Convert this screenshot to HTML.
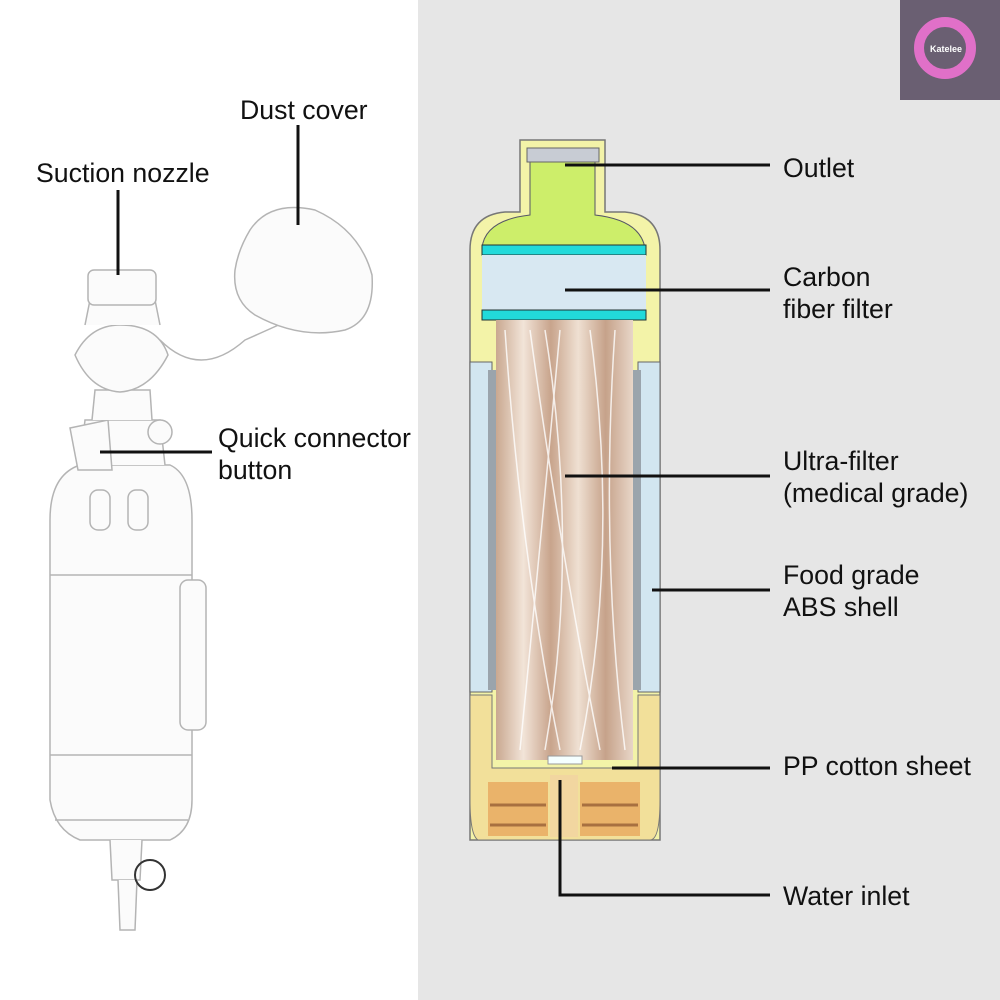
<!DOCTYPE html>
<html><head><style>
html,body{margin:0;padding:0;width:1000px;height:1000px;overflow:hidden;background:#fff}
svg{display:block}
text{font-family:"Liberation Sans",sans-serif;font-size:26.7px;fill:#111}
</style></head><body>
<svg width="1000" height="1000" viewBox="0 0 1000 1000">
<rect x="0" y="0" width="418" height="1000" fill="#fff"/>
<rect x="418" y="0" width="582" height="1000" fill="#e6e6e6"/>
<!-- logo -->
<rect x="900" y="0" width="100" height="100" fill="#6a5f72"/>
<circle cx="945" cy="48" r="26" fill="none" stroke="#e070c8" stroke-width="10"/>
<text x="930" y="52" style="font-size:9px;fill:#fff;font-weight:bold">Katelee</text>

<!-- left bottle line drawing -->
<g fill="#fbfbfb" stroke="#b4b4b4" stroke-width="1.5">
<path d="M50 520 Q50 475 80 465 L170 465 Q192 475 192 520 L192 800 Q192 830 170 840 L80 840 Q55 830 50 800 Z"/>
<path d="M50 575 L192 575 M50 755 L192 755 M55 820 L188 820"/>
<rect x="180" y="580" width="26" height="150" rx="8"/>
<rect x="90" y="490" width="20" height="40" rx="8"/>
<rect x="128" y="490" width="20" height="40" rx="8"/>
<path d="M80 465 L85 420 L160 420 L165 465"/>
<path d="M70 428 L108 420 L112 470 L78 470 Z"/>
<circle cx="160" cy="432" r="12"/>
<path d="M92 420 L95 390 L150 390 L152 420"/>
<path d="M75 355 Q90 325 120 325 Q158 325 168 355 Q150 390 120 392 Q90 390 75 355Z"/>
<path d="M85 325 L90 300 L155 300 L160 325"/>
<rect x="88" y="270" width="68" height="35" rx="6"/>
<path d="M110 840 L112 880 L140 880 L142 840"/>
<path d="M118 880 L120 930 L135 930 L137 880"/>
<path d="M160 340 Q200 380 245 340 Q290 320 300 315" fill="none"/>
<path d="M250 230 Q270 200 315 210 Q360 230 372 275 Q375 320 345 330 Q300 340 255 315 Q232 300 235 270 Q238 250 250 230Z"/>
</g>
<circle cx="150" cy="875" r="15" fill="none" stroke="#333" stroke-width="2"/>

<!-- right cutaway -->
<path d="M470 840 L470 250 Q470 215 505 212 L520 212 L520 140 L605 140 L605 212 L625 212 Q660 215 660 250 L660 840 Z" fill="#f3f3a8" stroke="#777" stroke-width="1.5"/>
<path d="M530 150 L595 150 L595 215 Q640 220 645 248 L482 248 Q485 220 530 215 Z" fill="#cdee6a" stroke="#556" stroke-width="1"/>
<rect x="527" y="148" width="72" height="14" fill="#c8ccd4" stroke="#666"/>
<rect x="482" y="245" width="164" height="10" fill="#22dada" stroke="#233"/>
<rect x="482" y="255" width="164" height="55" fill="#d8e8f2"/>
<rect x="482" y="310" width="164" height="10" fill="#22dada" stroke="#233"/>
<rect x="470" y="362" width="22" height="330" fill="#d2e6f0" stroke="#666"/>
<rect x="638" y="362" width="22" height="330" fill="#d2e6f0" stroke="#666"/>
<rect x="488" y="370" width="8" height="320" fill="#9aa4ac"/>
<rect x="633" y="370" width="8" height="320" fill="#9aa4ac"/>
<defs>
<linearGradient id="fib" x1="0" x2="1">
<stop offset="0" stop-color="#c9a890"/><stop offset="0.2" stop-color="#f2e4d8"/><stop offset="0.4" stop-color="#c8a48c"/><stop offset="0.6" stop-color="#efe0d2"/><stop offset="0.8" stop-color="#c6a28a"/><stop offset="1" stop-color="#e8d6c8"/>
</linearGradient>
</defs>
<rect x="496" y="320" width="137" height="440" fill="url(#fib)"/>
<g stroke="#fff" stroke-width="1.5" fill="none" opacity="0.8">
<path d="M505 330 Q520 550 560 750"/><path d="M530 330 Q560 550 600 750"/><path d="M560 330 Q540 550 520 750"/><path d="M590 330 Q620 550 580 750"/><path d="M615 330 Q600 550 625 750"/><path d="M545 330 Q580 550 545 750"/>
</g>
<rect x="548" y="756" width="34" height="8" fill="#f5ffff" stroke="#999"/>
<path d="M470 695 L492 695 L492 768 L638 768 L638 695 L660 695 L660 800 Q660 840 650 840 L478 840 Q470 835 470 800 Z" fill="#f2e09a" stroke="#777"/>
<path d="M488 782 L548 782 L548 836 L488 836 Z" fill="#eab36a"/>
<path d="M580 782 L640 782 L640 836 L580 836 Z" fill="#eab36a"/>
<g stroke="#a87040" stroke-width="3"><line x1="490" y1="805" x2="546" y2="805"/><line x1="490" y1="825" x2="546" y2="825"/><line x1="582" y1="805" x2="638" y2="805"/><line x1="582" y1="825" x2="638" y2="825"/></g>
<rect x="550" y="775" width="28" height="62" fill="#f2d6a0"/>

<g stroke="#111" stroke-width="3" fill="none">
<line x1="565" y1="165" x2="770" y2="165"/>
<line x1="565" y1="290" x2="770" y2="290"/>
<line x1="565" y1="476" x2="770" y2="476"/>
<line x1="652" y1="590" x2="770" y2="590"/>
<line x1="612" y1="768" x2="770" y2="768"/>
<polyline points="560,780 560,895 770,895"/>
<line x1="298" y1="125" x2="298" y2="225"/>
<line x1="118" y1="190" x2="118" y2="275"/>
<line x1="100" y1="452" x2="212" y2="452"/>
</g>

<text x="240" y="119">Dust cover</text>
<text x="36" y="182">Suction nozzle</text>
<text x="218" y="447">Quick connector</text>
<text x="218" y="479">button</text>
<text x="783" y="177">Outlet</text>
<text x="783" y="286">Carbon</text>
<text x="783" y="318">fiber filter</text>
<text x="783" y="470">Ultra-filter</text>
<text x="783" y="502">(medical grade)</text>
<text x="783" y="584">Food grade</text>
<text x="783" y="616">ABS shell</text>
<text x="783" y="775">PP cotton sheet</text>
<text x="783" y="905">Water inlet</text>
</svg>
</body></html>
